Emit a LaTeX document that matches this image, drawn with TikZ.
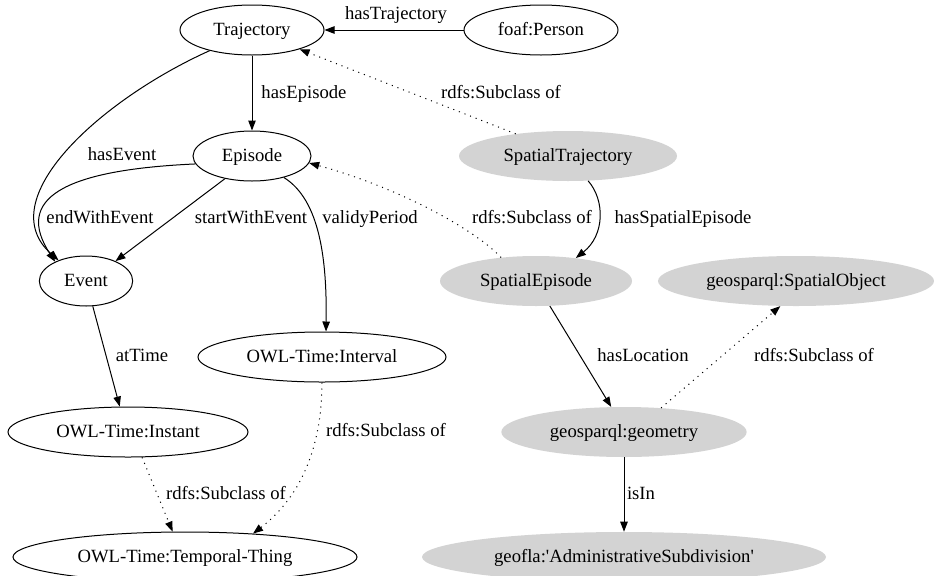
\documentclass[tikz,border=0pt]{standalone}
\usepackage{fontspec}
\setmainfont{Liberation Serif}
\usetikzlibrary{shapes.geometric,arrows.meta}
\definecolor{gvgray}{HTML}{D3D3D3}
\begin{document}
\begin{tikzpicture}[x=0.75pt,y=-0.75pt,
  every node/.style={font=\fontsize{14}{16}\selectfont\rmfamily,text height=10pt,text depth=2pt},
  cls/.style={ellipse,draw,line width=0.75pt,inner sep=0pt,minimum height=37.5pt},
  gcls/.style={ellipse,fill=gvgray,inner sep=0pt,minimum height=37.5pt},
  rel/.style={line width=0.75pt,-{Triangle[length=7.5pt,width=5.6pt]}},
  sub/.style={rel,dash pattern=on 0.8pt off 3.7pt},
  lbl/.style={inner sep=0pt}]
\useasboundingbox (0,0) rectangle (934,575);
% nodes
\node[cls,minimum width=108pt] (traj) at (252,30) {Trajectory};
\node[cls,minimum width=115.5pt] (person) at (541,30) {foaf:Person};
\node[cls,minimum width=88.5pt] (episode) at (252,156) {Episode};
\node[cls,minimum width=70pt] (event) at (86,281) {Event};
\node[gcls,minimum width=163.5pt] (sptraj) at (568,156) {SpatialTrajectory};
\node[gcls,minimum width=144pt] (spep) at (536,281) {SpatialEpisode};
\node[gcls,minimum width=207pt] (spobj) at (796,281) {geosparql:SpatialObject};
\node[cls,minimum width=186pt] (interval) at (322,357) {OWL-Time:Interval};
\node[cls,minimum width=180pt] (instant) at (128,432) {OWL-Time:Instant};
\node[gcls,minimum width=184pt] (geom) at (624,432) {geosparql:geometry};
\node[cls,minimum width=258pt] (tt) at (185,557) {OWL-Time:Temporal-Thing};
\node[gcls,minimum width=303pt] (geofla) at (624,557) {geofla:\textquotesingle AdministrativeSubdivision\textquotesingle};
% edges
\draw[rel] (person.180) -- (traj.0);
\node[lbl] (l1) at (396,14) {hasTrajectory};
\draw[rel] (traj.270) -- (episode.90);
\node[lbl] (l2) at (304,93) {hasEpisode};
\draw[rel] (traj.206) .. controls (100,100) and (-10,200) .. (event.143);
\node[lbl] (l3) at (122,155) {hasEvent};
\draw[rel] (episode.188) .. controls (60,170) and (15,200) .. (event.148);
\node[lbl] (l4) at (100,218) {endWithEvent};
\draw[rel] (episode.220) -- (event.34);
\node[lbl] (l5) at (251,218) {startWithEvent};
\draw[rel] (episode.326) .. controls (320,200) and (327,260) .. (interval.81);
\node[lbl] (l6) at (370,218) {validyPeriod};
\draw[sub] (sptraj.157) -- (traj.338);
\node[lbl] (l7) at (501,93) {rdfs:Subclass of};
\draw[sub] (spep.146) .. controls (470,225) and (390,185) .. (episode.353);
\node[lbl] (l8) at (532,218) {rdfs:Subclass of};
\draw[rel] (sptraj.309) .. controls (605,200) and (605,235) .. (spep.30);
\node[lbl] (l9) at (683,218) {hasSpatialEpisode};
\draw[rel] (event.285) -- (instant.108);
\node[lbl] (l10) at (142,356) {atTime};
\draw[sub] (instant.299) -- (tt.116);
\node[lbl] (l11) at (226,494) {rdfs:Subclass of};
\draw[sub] (interval.270) .. controls (322,430) and (310,490) .. (tt.19);
\node[lbl] (l12) at (386,431) {rdfs:Subclass of};
\draw[rel] (spep.299) -- (geom.117);
\node[lbl] (l13) at (643,356) {hasLocation};
\draw[sub] (geom.33) -- (spobj.238);
\node[lbl] (l14) at (814,356) {rdfs:Subclass of};
\draw[rel] (geom.270) -- (geofla.90);
\node[lbl] (l15) at (641,494) {isIn};
\end{tikzpicture}
\end{document}
